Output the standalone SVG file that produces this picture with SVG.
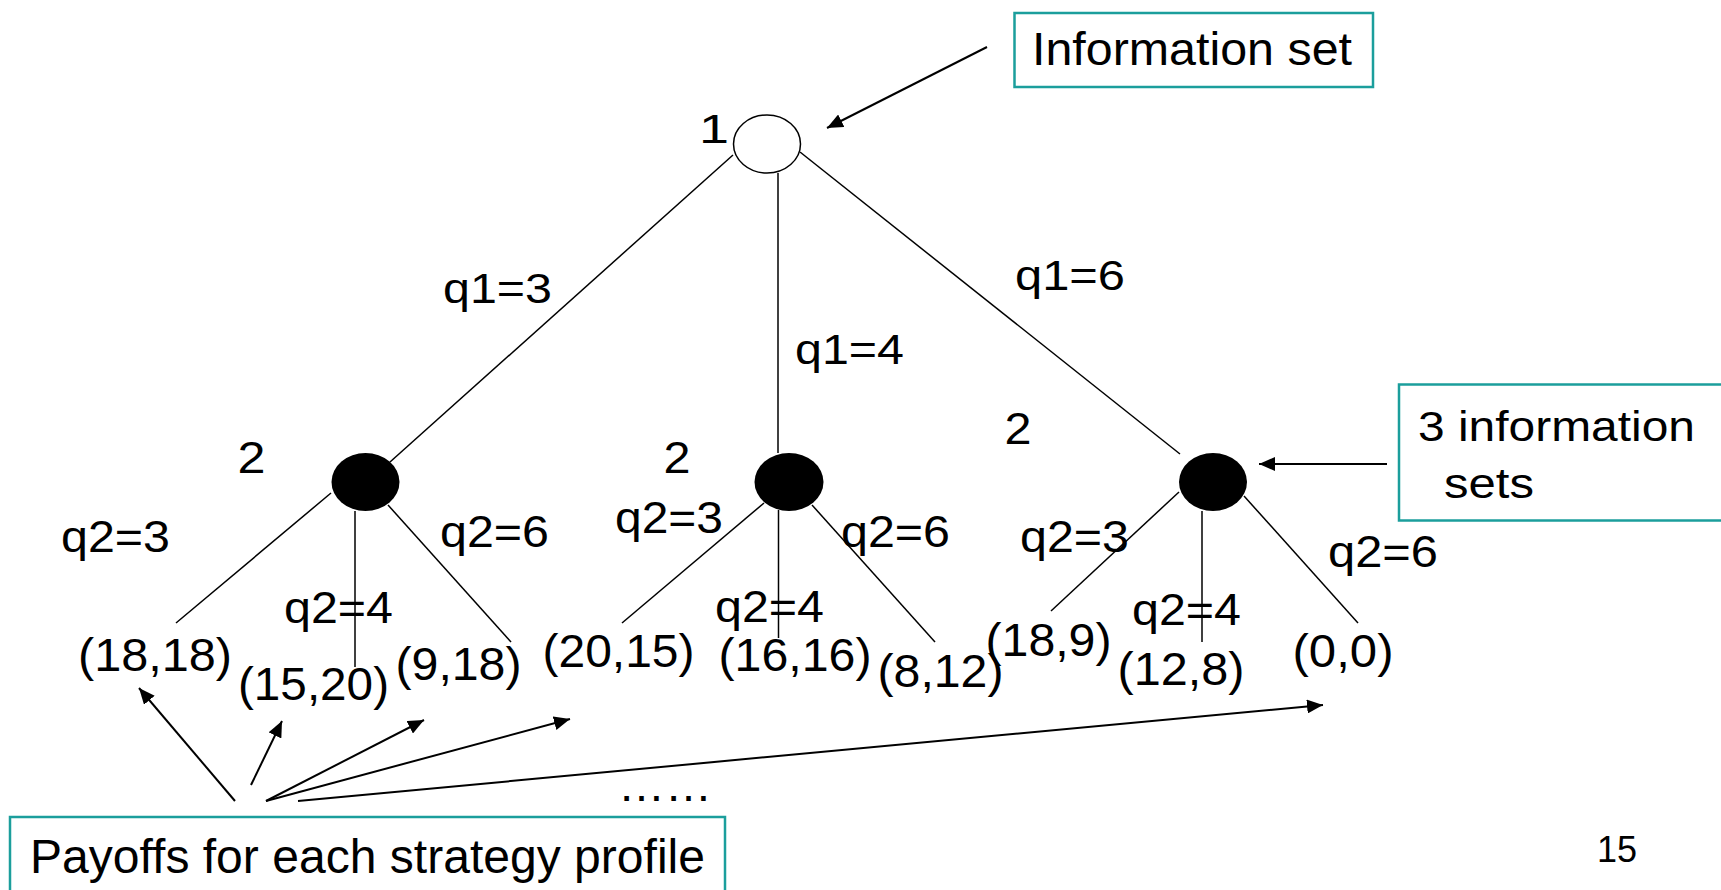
<svg xmlns="http://www.w3.org/2000/svg" width="1721" height="890" viewBox="0 0 1721 890">
  <style>
    text { font-family: "Liberation Sans", Arial, sans-serif; fill: #000; }
    .lbl { font-size: 45px; }
    .q1 { font-size: 43px; }
    .pay { font-size: 46px; }
    .edge { stroke: #000; stroke-width: 1.5; fill: none; }
    .ptr { stroke: #000; stroke-width: 2; fill: none; marker-end: url(#head); }
    .callout { fill: #fff; stroke: #1b9e9c; stroke-width: 2.5; }
    .dec { stroke: #000; stroke-width: 1.5; }
  </style>
  <defs>
    <marker id="head" viewBox="0 0 16 14" refX="16" refY="7" markerWidth="16" markerHeight="14" markerUnits="userSpaceOnUse" orient="auto">
      <path d="M0,0 L16,7 L0,14 z" fill="#000"/>
    </marker>
  </defs>

  <rect width="1721" height="890" fill="#fff"/>

  <!-- tree branches and annotation pointers -->
  <g id="connectors">
    <line class="edge" x1="733" y1="155" x2="390" y2="462"/>
    <line class="edge" x1="778" y1="173" x2="778" y2="453"/>
    <line class="edge" x1="800" y1="152" x2="1180" y2="454"/>

    <line class="edge" x1="331" y1="493" x2="176" y2="623"/>
    <line class="edge" x1="355" y1="511" x2="355" y2="667"/>
    <line class="edge" x1="388" y1="505" x2="511" y2="642"/>

    <line class="edge" x1="764" y1="503" x2="622" y2="623"/>
    <line class="edge" x1="778.5" y1="510" x2="778.5" y2="638"/>
    <line class="edge" x1="812" y1="505" x2="935" y2="642"/>

    <line class="edge" x1="1179" y1="492" x2="1051" y2="611"/>
    <line class="edge" x1="1202" y1="511" x2="1202" y2="642"/>
    <line class="edge" x1="1244" y1="496" x2="1358" y2="623"/>

    <line class="ptr" x1="987" y1="47" x2="827" y2="128"/>
    <line class="ptr" x1="1387" y1="464" x2="1259" y2="464"/>

    <line class="ptr" x1="235" y1="801" x2="139" y2="688"/>
    <line class="ptr" x1="251" y1="785" x2="282" y2="721"/>
    <line class="ptr" x1="266" y1="801" x2="424" y2="720"/>
    <line class="ptr" x1="266" y1="801" x2="570" y2="719"/>
    <line class="ptr" x1="298" y1="801" x2="1323" y2="705"/>
  </g>

  <!-- decision nodes -->
  <g id="root">
    <ellipse class="dec" cx="767" cy="144" rx="33.5" ry="29" fill="#fff"/>
    <text x="699" y="143" font-size="40" textLength="30" lengthAdjust="spacingAndGlyphs">1</text>
  </g>
  <g id="node-left">
    <ellipse cx="365.5" cy="482" rx="34" ry="29" fill="#000"/>
    <text class="lbl" x="237.5" y="473" textLength="28" lengthAdjust="spacingAndGlyphs">2</text>
  </g>
  <g id="node-mid">
    <ellipse cx="789" cy="482" rx="34.5" ry="29" fill="#000"/>
    <text class="lbl" x="663.5" y="473" textLength="27" lengthAdjust="spacingAndGlyphs">2</text>
  </g>
  <g id="node-right">
    <ellipse cx="1213" cy="482" rx="34" ry="29" fill="#000"/>
    <text class="lbl" x="1004.5" y="444" textLength="27" lengthAdjust="spacingAndGlyphs">2</text>
  </g>

  <!-- branch labels -->
  <g id="labels-q1">
    <text class="q1" x="443" y="303" textLength="109" lengthAdjust="spacingAndGlyphs">q1=3</text>
    <text class="q1" x="795" y="364" textLength="109" lengthAdjust="spacingAndGlyphs">q1=4</text>
    <text class="q1" x="1015" y="290" textLength="110" lengthAdjust="spacingAndGlyphs">q1=6</text>
  </g>
  <g id="labels-q2">
    <text class="lbl" x="61" y="552" textLength="109" lengthAdjust="spacingAndGlyphs">q2=3</text>
    <text class="lbl" x="284" y="623" textLength="109" lengthAdjust="spacingAndGlyphs">q2=4</text>
    <text class="lbl" x="440" y="547" textLength="109" lengthAdjust="spacingAndGlyphs">q2=6</text>

    <text class="lbl" x="615" y="533" textLength="108" lengthAdjust="spacingAndGlyphs">q2=3</text>
    <text class="lbl" x="715" y="622" textLength="109" lengthAdjust="spacingAndGlyphs">q2=4</text>
    <text class="lbl" x="841" y="547" textLength="109" lengthAdjust="spacingAndGlyphs">q2=6</text>

    <text class="lbl" x="1020" y="552" textLength="109" lengthAdjust="spacingAndGlyphs">q2=3</text>
    <text class="lbl" x="1132" y="625" textLength="109" lengthAdjust="spacingAndGlyphs">q2=4</text>
    <text class="lbl" x="1328" y="567" textLength="110" lengthAdjust="spacingAndGlyphs">q2=6</text>
  </g>

  <!-- terminal payoffs -->
  <g id="payoffs">
    <text class="pay" x="78" y="671" textLength="154" lengthAdjust="spacingAndGlyphs">(18,18)</text>
    <text class="pay" x="238" y="700" textLength="151" lengthAdjust="spacingAndGlyphs">(15,20)</text>
    <text class="pay" x="395.5" y="680" textLength="126" lengthAdjust="spacingAndGlyphs">(9,18)</text>
    <text class="pay" x="542.5" y="667" textLength="152" lengthAdjust="spacingAndGlyphs">(20,15)</text>
    <text class="pay" x="718.5" y="671" textLength="153" lengthAdjust="spacingAndGlyphs">(16,16)</text>
    <text class="pay" x="877.5" y="687" textLength="126" lengthAdjust="spacingAndGlyphs">(8,12)</text>
    <text class="pay" x="985.5" y="656" textLength="126" lengthAdjust="spacingAndGlyphs">(18,9)</text>
    <text class="pay" x="1117.5" y="685" textLength="127" lengthAdjust="spacingAndGlyphs">(12,8)</text>
    <text class="pay" x="1292.5" y="667" textLength="101" lengthAdjust="spacingAndGlyphs">(0,0)</text>
  </g>

  <!-- callout boxes -->
  <g id="callout-info-set">
    <rect class="callout" x="1014.5" y="13" width="358.5" height="74"/>
    <text x="1032" y="65" font-size="47" textLength="320" lengthAdjust="spacingAndGlyphs">Information set</text>
  </g>
  <g id="callout-three-sets">
    <rect class="callout" x="1399" y="384.5" width="330" height="136"/>
    <text x="1418" y="441" font-size="42" textLength="277" lengthAdjust="spacingAndGlyphs">3 information</text>
    <text x="1444" y="498" font-size="42" textLength="90" lengthAdjust="spacingAndGlyphs">sets</text>
  </g>
  <g id="callout-payoffs">
    <rect class="callout" x="10" y="817" width="715" height="80"/>
    <text x="30" y="873" font-size="47.5" textLength="675" lengthAdjust="spacingAndGlyphs">Payoffs for each strategy profile</text>
  </g>

  <g id="ellipsis">
    <text x="618" y="801" font-size="47">……</text>
  </g>
  <g id="page-number">
    <text x="1597" y="862" font-size="36">15</text>
  </g>
</svg>
